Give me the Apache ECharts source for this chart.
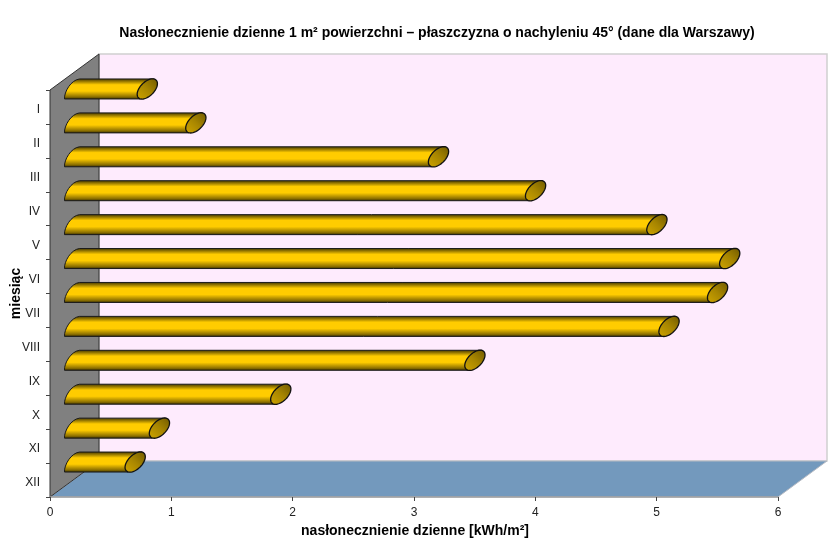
<!DOCTYPE html>
<html>
<head>
<meta charset="utf-8">
<style>html,body{margin:0;padding:0;background:#fff}#c{width:840px;height:560px}</style>
<script src="https://cdn.jsdelivr.net/npm/echarts@6/dist/echarts.min.js"></script>
</head>
<body>
<div id="c"></div>
<script>
const months = ['I','II','III','IV','V','VI','VII','VIII','IX','X','XI','XII'];
const irradiation = [0.6,1.0,3.0,3.8,4.8,5.4,5.3,4.9,3.3,1.7,0.7,0.5];
const titleText = 'Nasłonecznienie dzienne 1 m² powierzchni – płaszczyzna o nachyleniu 45° (dane dla Warszawy)';
const xName = 'nasłonecznienie dzienne [kWh/m²]';
const yName = 'miesiąc';

const DX = 49, DY = 36;   // full depth of the 3D box
const MX = 24.5, MY = 18; // mid depth, where the bars sit
const R = 10;             // bar half height

const chart = echarts.init(document.getElementById('c'), null, {renderer:'canvas'});

function renderWalls(params, api) {
  const c = params.coordSys;
  const l = c.x, r = c.x + c.width, t = c.y, b = c.y + c.height;
  return {type:'group', children:[
    {type:'polygon', shape:{points:[[l+DX,t-DY],[r+DX,t-DY],[r+DX,b-DY],[l+DX,b-DY]]},
      style:{fill:'#FEEBFD', stroke:'#D0D0D0', lineWidth:1.5}},
    {type:'polygon', shape:{points:[[l,b],[l+DX,b-DY],[r+DX,b-DY],[r,b]]},
      style:{fill:'#7399BD', stroke:'#B8BCC4', lineWidth:1}},
    {type:'polygon', shape:{points:[[l,t],[l+DX,t-DY],[l+DX,b-DY],[l,b]]},
      style:{fill:'#808080', stroke:'#333333', lineWidth:1}}
  ]};
}

function renderBar(params, api) {
  const v = api.value(0), i = api.value(1);
  const start = api.coord([0, i]);
  const end = api.coord([v, i]);
  const sx = start[0] + MX, cx = end[0] + MX, cy = end[1] - MY;
  const top = cy - R, bot = cy + R;
  const path = 'M' + (cx-7) + ' ' + bot +
    ' L' + (sx-10) + ' ' + bot +
    ' C' + (sx-10.5) + ' ' + (cy+3) + ' ' + (sx-3.5) + ' ' + (top+1) + ' ' + (sx+5) + ' ' + top +
    ' L' + (cx+7) + ' ' + top + ' Z';
  const a = 12.5, b = 7, k = Math.SQRT1_2;
  const pts = [];
  for (let n = 0; n < 48; n++) {
    const t = n / 48 * Math.PI * 2;
    const u = a * Math.cos(t), w = b * Math.sin(t);
    pts.push([cx + k*u + k*w, cy - k*u + k*w]);
  }
  return {type:'group', children:[
    {type:'path', shape:{pathData:path},
      style:{
        fill:new echarts.graphic.LinearGradient(0,0,0,1,[
          {offset:0,color:'#3a3000'},{offset:0.12,color:'#8a6e00'},{offset:0.3,color:'#FFCC00'},
          {offset:0.6,color:'#FFCC00'},{offset:0.88,color:'#8a6e00'},{offset:1,color:'#2e2600'}]),
        stroke:'#1a1a1a', lineWidth:1}},
    {type:'polygon', shape:{points:pts},
      style:{
        fill:new echarts.graphic.LinearGradient(0,1,1,0,[
          {offset:0,color:'#CFA500'},{offset:0.5,color:'#A88600'},{offset:1,color:'#6E5800'}]),
        stroke:'#111111', lineWidth:1.3}}
  ]};
}

chart.setOption({
  animation:false,
  backgroundColor:'#ffffff',
  textStyle:{fontFamily:'"Liberation Sans",Arial,sans-serif'},
  title:{text:titleText, left:432, top:21, textAlign:'center',
    textStyle:{fontFamily:'"Liberation Sans",Arial,sans-serif',fontSize:14,fontWeight:'bold',color:'#000'}},
  grid:{left:50,right:62,top:90,bottom:63,containLabel:false,outerBoundsMode:'none'},
  xAxis:{type:'value',min:0,max:6,interval:1,z:5,
    name:xName,nameLocation:'middle',nameGap:27,nameMoveOverlap:false,
    nameTextStyle:{fontFamily:'"Liberation Sans",Arial,sans-serif',fontSize:14,fontWeight:'bold',color:'#000',padding:[0,0,0,2]},
    axisLine:{show:true,lineStyle:{color:'#A0A0A0',width:1.5}},
    axisTick:{show:true,length:4,lineStyle:{color:'#444'}},
    axisLabel:{fontSize:12,color:'#222',margin:10},
    splitLine:{show:false}},
  yAxis:{type:'category',data:months,inverse:true,z:5,
    name:yName,nameLocation:'middle',nameGap:27,nameRotate:90,nameMoveOverlap:false,
    nameTextStyle:{fontFamily:'"Liberation Sans",Arial,sans-serif',fontSize:14,fontWeight:'bold',color:'#000'},
    axisLine:{show:false},
    axisTick:{show:true,length:4,alignWithLabel:false,lineStyle:{color:'#444'}},
    axisLabel:{margin:10,formatter:v=>'{a|'+v+'}',
      rich:{a:{fontSize:12,color:'#222',padding:[6,0,0,0],fontFamily:'"Liberation Sans",Arial,sans-serif'}}},
    splitLine:{show:false}},
  series:[
    {type:'custom',z:1,silent:true,clip:false,renderItem:renderWalls,data:[[0,0]],encode:{x:0,y:1}},
    {type:'custom',z:3,silent:true,clip:false,renderItem:renderBar,
      data:irradiation.map((v,i)=>[v,i]),encode:{x:0,y:1}}
  ]
});
</script>
</body>
</html>
